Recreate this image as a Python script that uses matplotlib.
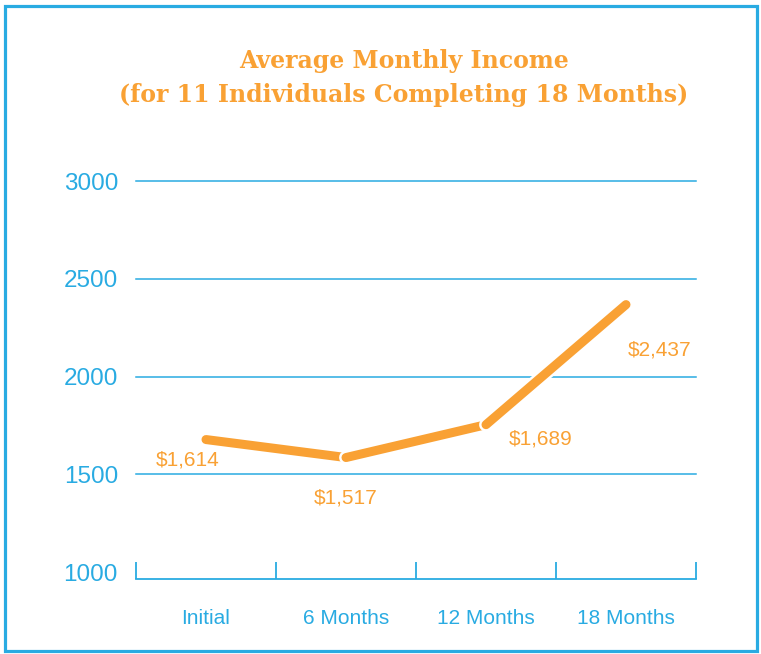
import matplotlib
matplotlib.use("Agg")
import matplotlib.pyplot as plt
import matplotlib.patheffects as pe
from matplotlib.patches import Rectangle

# ---- data ----
categories = ["Initial", "6 Months", "12 Months", "18 Months"]
line_values = [1678, 1586, 1754, 2368]          # plotted positions as drawn in reference
value_labels = ["$1,614", "$1,517", "$1,689", "$2,437"]
y_ticks = [1000, 1500, 2000, 2500, 3000]
title_lines = ["Average Monthly Income", "(for 11 Individuals Completing 18 Months)"]

BLUE = "#29abe2"
ORANGE = "#f9a134"

fig = plt.figure(figsize=(7.61, 6.54), dpi=100)
W, H = 761, 654
ax = fig.add_axes([136 / W, 1 - 579 / H, (696 - 136) / W, (579 - 181) / H])

ax.set_xlim(-0.5, 3.5)
ax.set_ylim(965, 3000)

# gridlines (except 1000, which is the axis)
for v in y_ticks[1:]:
    ax.axhline(v, color=BLUE, lw=1.1, zorder=1, clip_on=False)

for s in ["top", "right", "left"]:
    ax.spines[s].set_visible(False)
ax.spines["bottom"].set_color(BLUE)
ax.spines["bottom"].set_linewidth(1.3)

# category separators on x axis
ax.set_xticks([-0.5, 0.5, 1.5, 2.5, 3.5])
ax.set_xticklabels([])
ax.tick_params(axis="x", direction="in", length=12, width=1.3, color=BLUE)
for i, c in enumerate(categories):
    ax.text(i, -0.098, c, transform=ax.get_xaxis_transform(), ha="center", va="center",
            fontsize=15, color=BLUE, family="Liberation Sans")

ax.set_yticks(y_ticks)
ax.set_yticklabels([str(v) for v in y_ticks], fontsize=17.5, color=BLUE, family="Liberation Sans")
ax.tick_params(axis="y", length=0, pad=13)

# line: segments with white outline gaps
x = list(range(len(categories)))
for i in range(len(x) - 1):
    ax.plot(x[i:i + 2], line_values[i:i + 2], color=ORANGE, lw=6.5, solid_capstyle="round",
            zorder=3 + i, clip_on=False,
            path_effects=[pe.Stroke(linewidth=10, foreground="white"), pe.Normal()])

# value labels (offsets in points)
offsets = [(-13, -15), (0, -29), (39, -10), (24, -33)]
for i, (lab, off) in enumerate(zip(value_labels, offsets)):
    ax.annotate(lab, (x[i], line_values[i]), xytext=off, textcoords="offset points",
                ha="center", va="center", fontsize=15, color=ORANGE,
                family="Liberation Sans", zorder=10)

# title
fig.text(404 / W, 1 - 61 / H, title_lines[0], ha="center", va="center", fontsize=17,
         fontweight="bold", color=ORANGE, family="DejaVu Serif")
fig.text(404 / W, 1 - 95 / H, title_lines[1], ha="center", va="center", fontsize=17,
         fontweight="bold", color=ORANGE, family="DejaVu Serif")

# border
fig.patches.append(Rectangle((4.5 / W, 3.5 / H), (757 - 4.5) / W, (648 - 3.5) / H,
                             transform=fig.transFigure, fill=False, edgecolor=BLUE, lw=2.3))

fig.savefig("out.png", dpi=100)
